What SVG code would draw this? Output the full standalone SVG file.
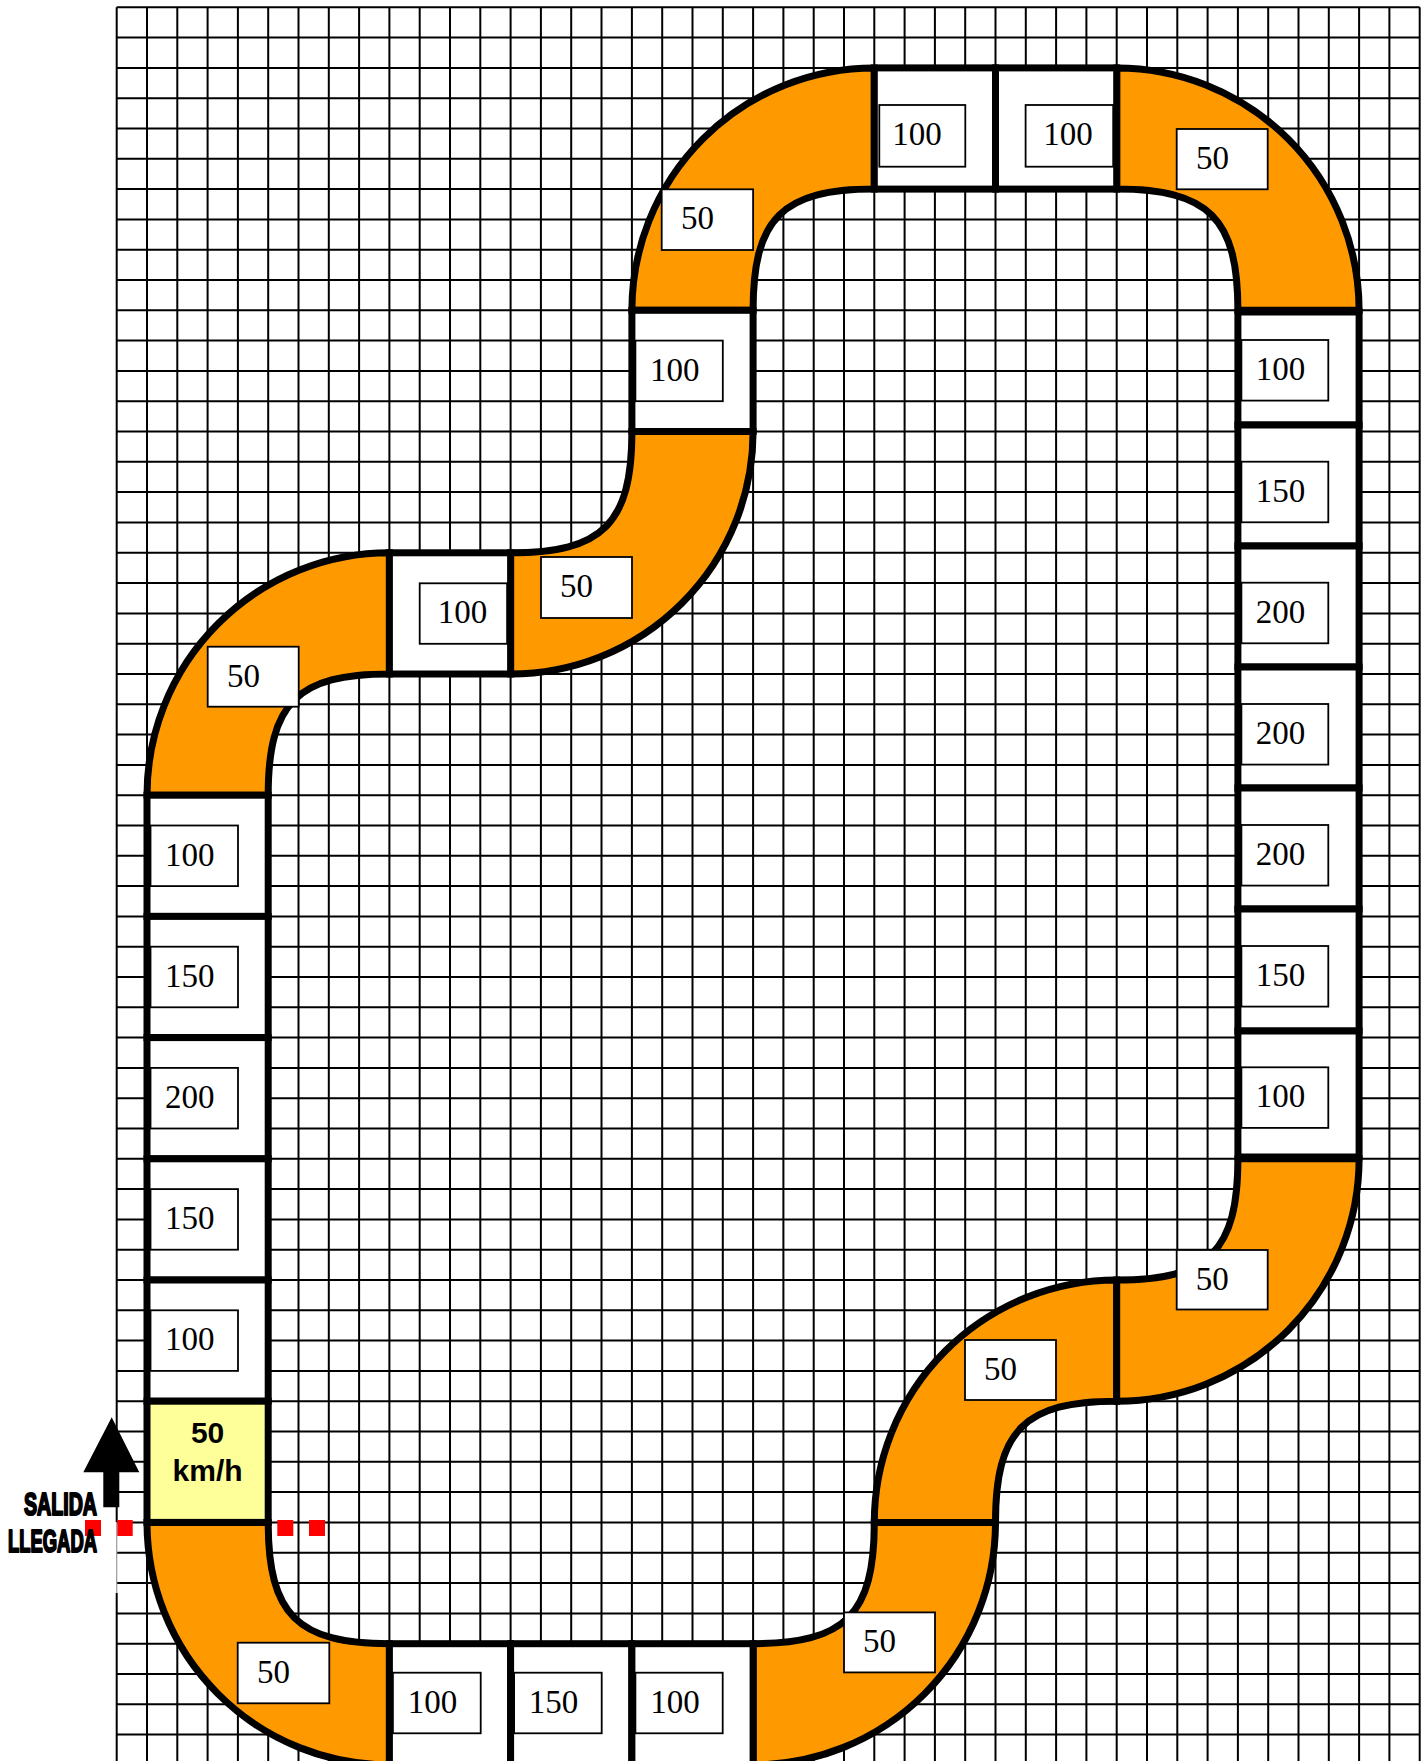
<svg xmlns="http://www.w3.org/2000/svg" width="1426" height="1761" viewBox="0 0 1426 1761">
<style>
.grid{fill:none;stroke:#000;stroke-width:2}
.orange{fill:#FF9900;stroke:#000;stroke-width:7;stroke-linejoin:miter}
.sq{fill:#fff;stroke:#000;stroke-width:7;stroke-linejoin:miter}
.lb{fill:#fff;stroke:#000;stroke-width:1.8}
.t{font-family:"Liberation Serif","DejaVu Serif","Times New Roman",serif;font-size:33px;fill:#000}
.bold{font-family:"Liberation Sans",Arial,sans-serif;font-weight:bold;font-size:30px;fill:#000;text-anchor:middle}
.imp{font-family:"Liberation Sans Narrow","Liberation Sans",sans-serif;font-weight:bold;font-size:32px;fill:#000;stroke:#000;stroke-width:2.2;stroke-linejoin:round}
.red{fill:#FF0000}
</style>
<rect width="1426" height="1761" fill="#fff"/>
<g id="grid">
<path class="grid" d="M116.7 7.3V1522M116.7 1593V1761M147 7.3V1761M177.3 7.3V1761M207.6 7.3V1761M237.9 7.3V1761M268.2 7.3V1761M298.5 7.3V1761M328.8 7.3V1761M359.1 7.3V1761M389.4 7.3V1761M419.7 7.3V1761M450 7.3V1761M480.3 7.3V1761M510.6 7.3V1761M540.9 7.3V1761M571.2 7.3V1761M601.5 7.3V1761M631.9 7.3V1761M662.2 7.3V1761M692.5 7.3V1761M722.8 7.3V1761M753.1 7.3V1761M783.4 7.3V1761M813.7 7.3V1761M844 7.3V1761M874.3 7.3V1761M904.6 7.3V1761M934.9 7.3V1761M965.2 7.3V1761M995.5 7.3V1761M1025.8 7.3V1761M1056.1 7.3V1761M1086.4 7.3V1761M1116.7 7.3V1761M1147 7.3V1761M1177.3 7.3V1761M1207.6 7.3V1761M1237.9 7.3V1761M1268.2 7.3V1761M1298.5 7.3V1761M1328.8 7.3V1761M1359.1 7.3V1761M1389.4 7.3V1761M1419.7 7.3V1761"/>
<path class="grid" d="M116.7 7.3H1419.7M116.7 37.6H1419.7M116.7 67.9H1419.7M116.7 98.2H1419.7M116.7 128.5H1419.7M116.7 158.8H1419.7M116.7 189.1H1419.7M116.7 219.4H1419.7M116.7 249.7H1419.7M116.7 280H1419.7M116.7 310.3H1419.7M116.7 340.6H1419.7M116.7 370.9H1419.7M116.7 401.2H1419.7M116.7 431.5H1419.7M116.7 461.8H1419.7M116.7 492.1H1419.7M116.7 522.5H1419.7M116.7 552.8H1419.7M116.7 583.1H1419.7M116.7 613.4H1419.7M116.7 643.7H1419.7M116.7 674H1419.7M116.7 704.3H1419.7M116.7 734.6H1419.7M116.7 764.9H1419.7M116.7 795.2H1419.7M116.7 825.5H1419.7M116.7 855.8H1419.7M116.7 886.1H1419.7M116.7 916.4H1419.7M116.7 946.7H1419.7M116.7 977H1419.7M116.7 1007.3H1419.7M116.7 1037.6H1419.7M116.7 1067.9H1419.7M116.7 1098.2H1419.7M116.7 1128.5H1419.7M116.7 1158.8H1419.7M116.7 1189.1H1419.7M116.7 1219.4H1419.7M116.7 1249.7H1419.7M116.7 1280H1419.7M116.7 1310.3H1419.7M116.7 1340.6H1419.7M116.7 1370.9H1419.7M116.7 1401.2H1419.7M116.7 1431.5H1419.7M116.7 1461.8H1419.7M116.7 1492.1H1419.7M116.7 1522.5H1419.7M116.7 1552.8H1419.7M116.7 1583.1H1419.7M116.7 1613.4H1419.7M116.7 1643.7H1419.7M116.7 1674H1419.7M116.7 1704.3H1419.7M116.7 1734.6H1419.7"/>
<path d="M116.7 1522V1593" stroke="#999" stroke-width="1.2" fill="none"/>
</g>
<g id="track">
<path id="curve1" class="orange" d="M147 1522.4A242.4 242.4 0 0 0 389.4 1764.9L389.4 1643.7C297.3 1643.7 268.2 1614.6 268.2 1522.4Z"/>
<path id="curve2" class="orange" d="M753.1 1764.9A242.4 242.4 0 0 0 995.5 1522.4L874.3 1522.4C874.3 1614.6 845.2 1643.7 753.1 1643.7Z"/>
<path id="curve3" class="orange" d="M874.3 1522.4A242.4 242.4 0 0 1 1116.7 1280L1116.7 1401.2C1024.6 1401.2 995.5 1430.3 995.5 1522.4Z"/>
<path id="curve4" class="orange" d="M1116.7 1401.2A242.4 242.4 0 0 0 1359.1 1158.8L1237.9 1158.8C1237.9 1250.9 1208.8 1280 1116.7 1280Z"/>
<path id="curve5" class="orange" d="M1116.7 67.9A242.4 242.4 0 0 1 1359.1 310.3L1237.9 310.3C1237.9 218.2 1208.8 189.1 1116.7 189.1Z"/>
<path id="curve6" class="orange" d="M631.9 310.3A242.4 242.4 0 0 1 874.3 67.9L874.3 189.1C782.2 189.1 753.1 218.2 753.1 310.3Z"/>
<path id="curve7" class="orange" d="M510.6 674A242.4 242.4 0 0 0 753.1 431.5L631.9 431.5C631.9 523.6 602.7 552.8 510.6 552.8Z"/>
<path id="curve8" class="orange" d="M147 795.2A242.4 242.4 0 0 1 389.4 552.8L389.4 674C297.3 674 268.2 703.1 268.2 795.2Z"/>
<rect class="sq" x="147" y="795.2" width="121.2" height="121.2"/>
<rect class="sq" x="147" y="916.4" width="121.2" height="121.2"/>
<rect class="sq" x="147" y="1037.6" width="121.2" height="121.2"/>
<rect class="sq" x="147" y="1158.8" width="121.2" height="121.2"/>
<rect class="sq" x="147" y="1280" width="121.2" height="121.2"/>
<rect id="start" x="147" y="1401.2" width="121.2" height="121.2" fill="#FFFF99" stroke="#000" stroke-width="7"/>
<rect class="sq" x="389.4" y="552.8" width="121.2" height="121.2"/>
<rect class="sq" x="631.9" y="310.3" width="121.2" height="121.2"/>
<rect class="sq" x="874.3" y="67.9" width="121.2" height="121.2"/>
<rect class="sq" x="995.5" y="67.9" width="121.2" height="121.2"/>
<rect class="sq" x="1237.9" y="312" width="121.2" height="113"/>
<rect class="sq" x="1237.9" y="425" width="121.2" height="121"/>
<rect class="sq" x="1237.9" y="546" width="121.2" height="121"/>
<rect class="sq" x="1237.9" y="667" width="121.2" height="121"/>
<rect class="sq" x="1237.9" y="788" width="121.2" height="121"/>
<rect class="sq" x="1237.9" y="909" width="121.2" height="122"/>
<rect class="sq" x="1237.9" y="1031" width="121.2" height="126"/>
<rect class="sq" x="389.4" y="1643.7" width="121.2" height="121.2"/>
<rect class="sq" x="510.6" y="1643.7" width="121.2" height="121.2"/>
<rect class="sq" x="631.9" y="1643.7" width="121.2" height="121.2"/>
</g>
<g id="labels">
<rect class="lb" x="150.5" y="825.5" width="87.5" height="60.6"/><text class="t" x="165" y="865.5">100</text>
<rect class="lb" x="150.5" y="946.7" width="87.5" height="60.6"/><text class="t" x="165" y="986.7">150</text>
<rect class="lb" x="150.5" y="1067.9" width="87.5" height="60.6"/><text class="t" x="165" y="1107.9">200</text>
<rect class="lb" x="150.5" y="1189.1" width="87.5" height="60.6"/><text class="t" x="165" y="1229.1">150</text>
<rect class="lb" x="150.5" y="1310.3" width="87.5" height="60.6"/><text class="t" x="165" y="1350.3">100</text>
<rect class="lb" x="207.7" y="646.7" width="91" height="60"/><text class="t" x="227" y="686.7">50</text>
<rect class="lb" x="419.7" y="583.3" width="87.4" height="60.5"/><text class="t" x="437.7" y="623.3">100</text>
<rect class="lb" x="541" y="557" width="91" height="61"/><text class="t" x="560" y="597">50</text>
<rect class="lb" x="635.4" y="340.6" width="87.4" height="60.6"/><text class="t" x="649.9" y="380.6">100</text>
<rect class="lb" x="661.7" y="189.3" width="91.4" height="60.7"/><text class="t" x="681" y="229.3">50</text>
<rect class="lb" x="879.3" y="105" width="86" height="61.7"/><text class="t" x="892.3" y="145">100</text>
<rect class="lb" x="1025.6" y="105" width="87.6" height="61.7"/><text class="t" x="1043.3" y="145">100</text>
<rect class="lb" x="1176.7" y="129" width="91" height="60.3"/><text class="t" x="1196" y="169">50</text>
<rect class="lb" x="1241.4" y="340" width="86.9" height="60.6"/><text class="t" x="1255.8" y="380">100</text>
<rect class="lb" x="1241.4" y="461.7" width="86.9" height="60.6"/><text class="t" x="1255.8" y="501.7">150</text>
<rect class="lb" x="1241.4" y="582.7" width="86.9" height="60.6"/><text class="t" x="1255.8" y="622.7">200</text>
<rect class="lb" x="1241.4" y="704" width="86.9" height="60.6"/><text class="t" x="1255.8" y="744">200</text>
<rect class="lb" x="1241.4" y="825" width="86.9" height="60.6"/><text class="t" x="1255.8" y="865">200</text>
<rect class="lb" x="1241.4" y="946" width="86.9" height="60.6"/><text class="t" x="1255.8" y="986">150</text>
<rect class="lb" x="1241.4" y="1067.3" width="86.9" height="60.6"/><text class="t" x="1255.8" y="1107.3">100</text>
<rect class="lb" x="1176.7" y="1250" width="91" height="59.5"/><text class="t" x="1195.7" y="1290">50</text>
<rect class="lb" x="965" y="1340" width="91" height="60"/><text class="t" x="984" y="1380">50</text>
<rect class="lb" x="844" y="1612.4" width="91" height="60"/><text class="t" x="863" y="1652.4">50</text>
<rect class="lb" x="392.9" y="1672.7" width="87.8" height="60.6"/><text class="t" x="407.7" y="1712.7">100</text>
<rect class="lb" x="514.1" y="1672.7" width="87.6" height="60.6"/><text class="t" x="528.8" y="1712.7">150</text>
<rect class="lb" x="635.4" y="1672.7" width="87.3" height="60.6"/><text class="t" x="650.2" y="1712.7">100</text>
<rect class="lb" x="237.7" y="1642.7" width="91.6" height="60.6"/><text class="t" x="257" y="1682.7">50</text>
<text class="bold" x="207.6" y="1443">50</text>
<text class="bold" x="207.6" y="1481">km/h</text>
</g>
<g id="start-line">
<rect class="red" x="85" y="1520" width="16" height="16"/>
<rect class="red" x="117.3" y="1520" width="15.4" height="16"/>
<rect class="red" x="277.3" y="1520" width="16" height="16"/>
<rect class="red" x="309" y="1520" width="16" height="16"/>
<polygon points="111.7,1417.3 139.3,1472.3 119.3,1472.3 119.3,1507.3 103.3,1507.3 103.3,1472.3 83.3,1472.3" fill="#000"/>
<text class="imp" x="24" y="1515" textLength="73" lengthAdjust="spacingAndGlyphs">SALIDA</text>
<text class="imp" x="8" y="1551.7" textLength="89" lengthAdjust="spacingAndGlyphs">LLEGADA</text>
</g>
</svg>
